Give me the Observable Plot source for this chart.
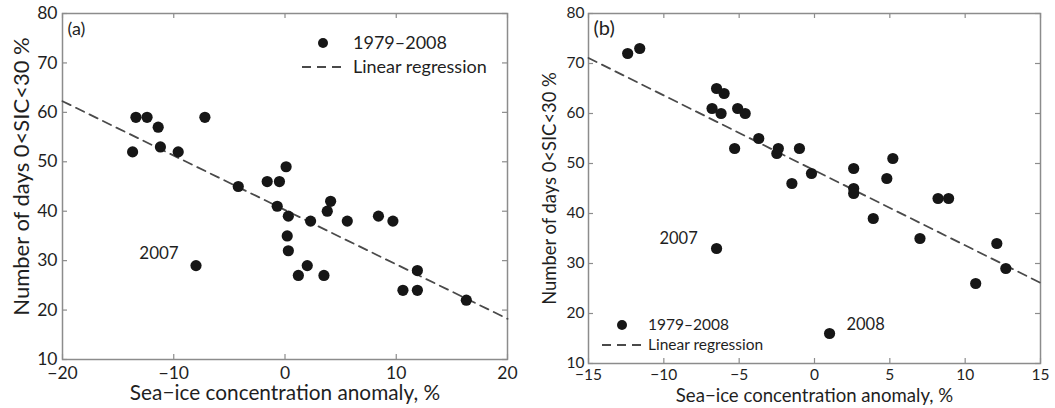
<!DOCTYPE html>
<html>
<head>
<meta charset="utf-8">
<script src="https://cdn.jsdelivr.net/npm/d3@7"></script>
<script src="https://cdn.jsdelivr.net/npm/@observablehq/plot@0.6"></script>
<style>
  body { margin: 0; background: #fff; }
  #fig { position: relative; width: 1055px; height: 408px; font-family: Lato, "Open Sans", sans-serif; }
  #fig svg { position: absolute; top: 0; }
</style>
</head>
<body>
<div id="fig"></div>
<script>
// (a) sea-ice concentration anomaly (%) vs. number of days with 0<SIC<30 %, 1979–2008
const anomA = [-13.7, -13.4, -12.4, -11.4, -11.2, -9.6, -7.2, -8.0, -4.2, -1.6, -0.5, 0.1, -0.7, 0.3, 0.2, 0.3,
               1.2, 2.0, 2.3, 3.5, 3.8, 4.1, 5.6, 8.4, 9.7, 10.6, 11.9, 11.9, 16.3];
const daysA = [52, 59, 59, 57, 53, 52, 59, 29, 45, 46, 46, 49, 41, 39, 35, 32,
               27, 29, 38, 27, 40, 42, 38, 39, 38, 24, 24, 28, 22];
// (b) the same quantities for the second region
const anomB = [-12.4, -11.6, -6.8, -6.5, -6.5, -6.2, -6.0, -5.3, -5.1, -4.6, -3.7, -2.5, -2.4, -1.5, -1.0, -0.2,
               1.0, 2.6, 2.6, 2.6, 3.9, 4.8, 5.2, 7.0, 8.2, 8.9, 10.7, 12.1, 12.7];
const daysB = [72, 73, 61, 65, 33, 60, 64, 53, 61, 60, 55, 52, 53, 46, 53, 48,
               16, 49, 45, 44, 39, 47, 51, 35, 43, 43, 26, 34, 29];

// labelled years: index into the arrays above
const notesA = [{year: "2007", i: 7}];
const notesB = [{year: "2007", i: 4}, {year: "2008", i: 16}];

const xTicksA = [-20, -10, 0, 10, 20];
const xTicksB = [-15, -10, -5, 0, 5, 10, 15];
const yTicks = [10, 20, 30, 40, 50, 60, 70, 80];

const panelNames = ["(a)", "(b)"];
const xLabel = "Sea\u2212ice concentration anomaly, %";
const yLabel = "Number of days 0<SIC<30 %";
const legendLabels = ["1979\u20132008", "Linear regression"];

const ink = "#1f1f1f";
const boxGray = "#8c8c8c";
const fmt = d3.format("d");

function leastSquares(xs, ys) {
  const mx = d3.mean(xs), my = d3.mean(ys);
  const slope = d3.sum(xs, (x, i) => (x - mx) * (ys[i] - my)) / d3.sum(xs, x => (x - mx) ** 2);
  return {slope, intercept: my - slope * mx};
}

function panel(o) {
  const data = o.xs.map((x, i) => ({x, y: o.ys[i]}));
  const fit = leastSquares(o.xs, o.ys);
  const xDom = [o.xTicks[0], o.xTicks[o.xTicks.length - 1]];
  const yDom = [yTicks[0], yTicks[yTicks.length - 1]];
  const fitLine = xDom.map(x => ({x, y: fit.intercept + fit.slope * x}));
  const iw = o.width - o.ml - o.mr, ih = o.height - o.mt - o.mb;
  // inward tick length (5px) expressed in data units
  const tx = 5 * (xDom[1] - xDom[0]) / iw, ty = 5 * (yDom[1] - yDom[0]) / ih;
  const noteMarks = o.notes.map((n, k) => Plot.text([{...data[n.i], year: n.year}], {
    x: "x", y: "y", text: "year", dx: o.noteOffsets[k][0], dy: o.noteOffsets[k][1],
    fontSize: o.noteFont, fill: ink
  }));

  const svg = Plot.plot({
    width: o.width, height: o.height,
    marginLeft: o.ml, marginRight: o.mr, marginTop: o.mt, marginBottom: o.mb,
    style: {fontFamily: "Lato, 'Open Sans', sans-serif", color: ink, background: "transparent", overflow: "visible"},
    x: {domain: xDom},
    y: {domain: yDom},
    marks: [
      Plot.ruleX(o.xTicks, {x: d => d, y1: yDom[0], y2: yDom[0] + ty, stroke: boxGray, strokeWidth: 1.2}),
      Plot.ruleX(o.xTicks, {x: d => d, y1: yDom[1], y2: yDom[1] - ty, stroke: boxGray, strokeWidth: 1.2}),
      Plot.ruleY(yTicks, {y: d => d, x1: xDom[0], x2: xDom[0] + tx, stroke: boxGray, strokeWidth: 1.2}),
      Plot.ruleY(yTicks, {y: d => d, x1: xDom[1], x2: xDom[1] - tx, stroke: boxGray, strokeWidth: 1.2}),
      Plot.frame({stroke: boxGray, strokeWidth: 1.5}),
      Plot.axisX(o.xTicks, {tickSize: 0, tickPadding: o.xPad, tickFormat: fmt, fontSize: o.tickFont, label: null}),
      Plot.axisY(yTicks, {tickSize: 0, tickPadding: o.yPad, tickFormat: fmt, fontSize: o.tickFont, label: null}),
      Plot.line(fitLine, {x: "x", y: "y", stroke: "#4a4a4a", strokeWidth: 1.8, strokeDasharray: "9,6"}),
      Plot.dot(data, {x: "x", y: "y", r: 5.6, fill: "#161616"}),
      ...noteMarks,
      Plot.text([o.name], {frameAnchor: "top-left", textAnchor: "start", lineAnchor: "middle", dx: 5, dy: o.nameDy, fontSize: o.nameFont, fill: ink}),
      Plot.text([xLabel], {frameAnchor: "bottom", textAnchor: "middle", lineAnchor: "middle", dy: o.xLabelDy, fontSize: o.xLabelFont, fill: ink}),
      Plot.text([yLabel], {frameAnchor: "left", textAnchor: "middle", lineAnchor: "middle", rotate: -90, dx: o.yLabelDx, dy: o.yLabelDy, fontSize: o.yLabelFont, fill: ink})
    ]
  });

  // legend
  const g = d3.select(svg).append("g").attr("font-size", o.legFont).attr("fill", ink).attr("text-anchor", "start");
  const L = o.legend;
  g.append("circle").attr("cx", L.dotX).attr("cy", L.y1).attr("r", 5).attr("fill", "#161616");
  g.append("line").attr("x1", L.dashX0).attr("x2", L.dashX0 + 39).attr("y1", L.y2).attr("y2", L.y2)
    .attr("stroke", "#4a4a4a").attr("stroke-width", 1.8).attr("stroke-dasharray", "9,6");
  g.append("text").attr("x", L.textX).attr("y", L.y1).attr("dy", "0.35em").text(legendLabels[0]);
  g.append("text").attr("x", L.textX).attr("y", L.y2).attr("dy", "0.35em").text(legendLabels[1]);

  svg.style.left = o.left + "px";
  return svg;
}

const fig = document.getElementById("fig");
fig.append(panel({
  name: panelNames[0], xs: anomA, ys: daysA, xTicks: xTicksA, notes: notesA,
  noteOffsets: [[-37, -12]],
  left: 0, width: 525, height: 408, ml: 62, mr: 18, mt: 13, mb: 49,
  tickFont: 17.5, xPad: 7, yPad: 5, noteFont: 17, nameFont: 18, nameDy: 16,
  xLabelFont: 20.8, yLabelFont: 22, xLabelDy: 34, yLabelDx: -41, yLabelDy: -10, legFont: 18,
  legend: {dotX: 323, dashX0: 302, textX: 353, y1: 43, y2: 67}
}));
fig.append(panel({
  name: panelNames[1], xs: anomB, ys: daysB, xTicks: xTicksB, notes: notesB,
  noteOffsets: [[-38, -10], [36, -9]],
  left: 525, width: 530, height: 408, ml: 63, mr: 15, mt: 13, mb: 45,
  tickFont: 15.5, xPad: 5, yPad: 4, noteFont: 16.5, nameFont: 20, nameDy: 15,
  xLabelFont: 18.6, yLabelFont: 18.4, xLabelDy: 33, yLabelDx: -38, yLabelDy: 0, legFont: 15.5,
  legend: {dotX: 97, dashX0: 77, textX: 123, y1: 325, y2: 345}
}));
</script>
</body>
</html>
